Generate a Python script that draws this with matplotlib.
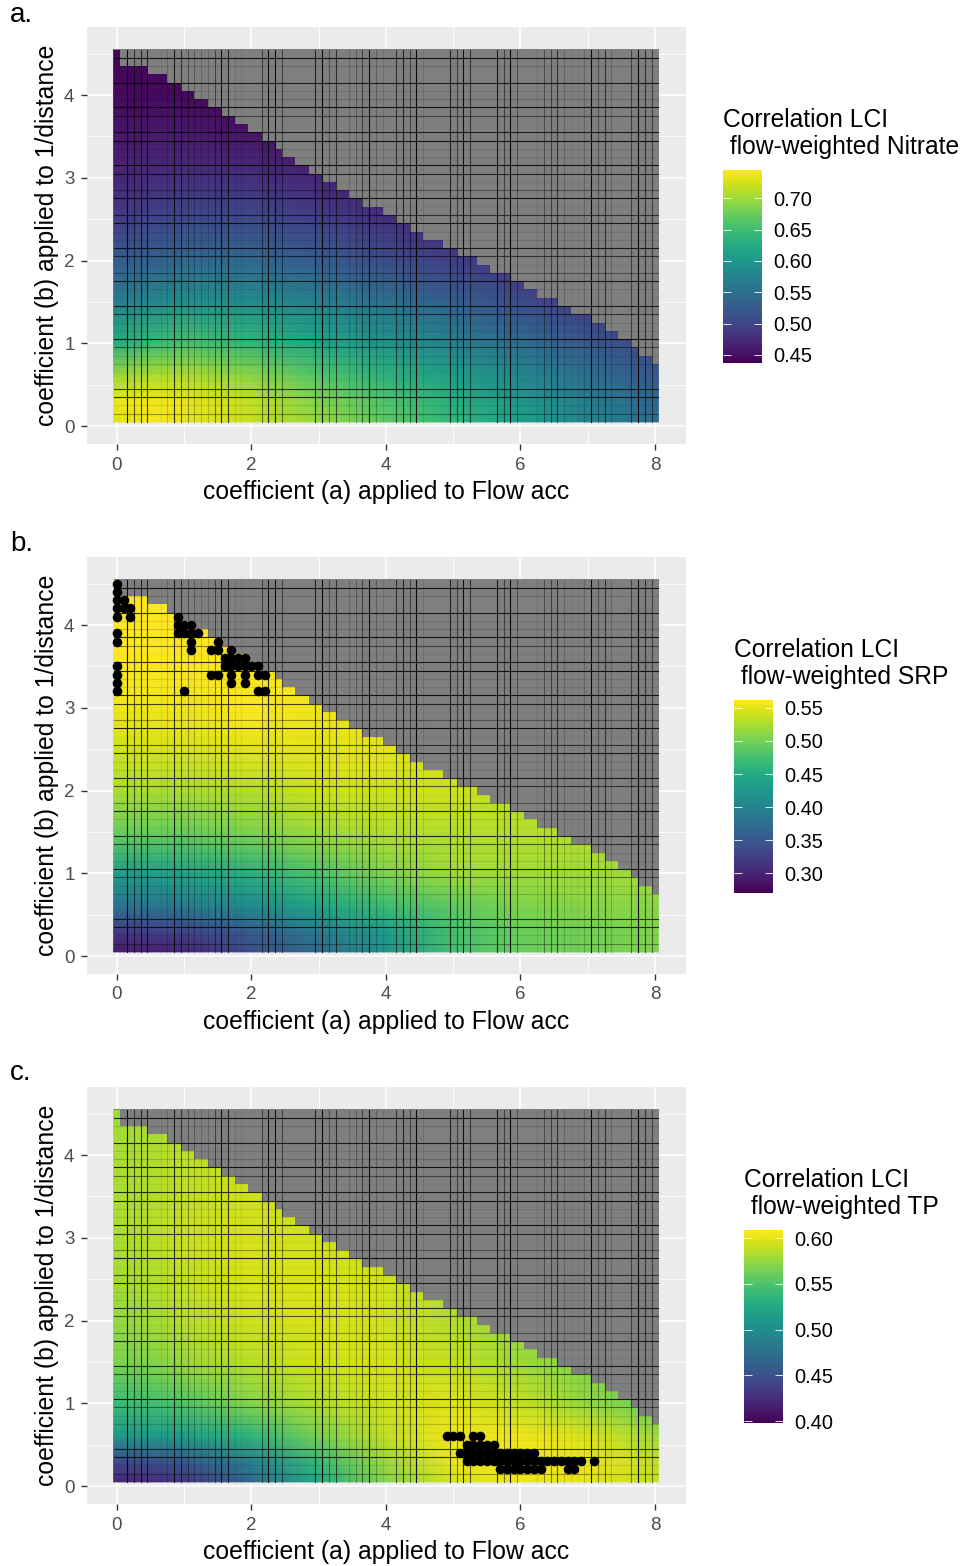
import matplotlib
matplotlib.use("Agg")
import matplotlib.pyplot as plt
from matplotlib.cm import ScalarMappable
from matplotlib.colors import Normalize
import numpy as np

W, H = 964, 1566
plt.rcParams["font.family"] = ["Liberation Sans", "DejaVu Sans"]

# anchor positions of the colour readings
a_pts = [-0.05, 0.5, 1, 2, 3, 4, 5, 6, 7, 8.05]
b_pts = [0.05, 0.3, 0.6, 1, 1.5, 2, 2.5, 3, 3.5, 4, 4.55]

# one row per b value, bottom to top (values behind the grey area are hidden)
corr_nitrate = [
    [0.730, 0.740, 0.735, 0.718, 0.695, 0.668, 0.640, 0.608, 0.575, 0.545],
    [0.735, 0.740, 0.735, 0.715, 0.685, 0.658, 0.630, 0.600, 0.568, 0.538],
    [0.700, 0.710, 0.710, 0.692, 0.662, 0.635, 0.610, 0.580, 0.550, 0.522],
    [0.625, 0.645, 0.655, 0.640, 0.618, 0.595, 0.570, 0.545, 0.522, 0.500],
    [0.565, 0.580, 0.590, 0.585, 0.570, 0.550, 0.530, 0.510, 0.490, 0.470],
    [0.525, 0.530, 0.540, 0.540, 0.525, 0.510, 0.495, 0.480, 0.460, 0.450],
    [0.490, 0.500, 0.505, 0.505, 0.495, 0.480, 0.465, 0.450, 0.450, 0.450],
    [0.470, 0.475, 0.480, 0.480, 0.470, 0.455, 0.450, 0.450, 0.450, 0.450],
    [0.455, 0.460, 0.460, 0.455, 0.450, 0.450, 0.450, 0.450, 0.450, 0.450],
    [0.445, 0.445, 0.445, 0.440, 0.440, 0.440, 0.440, 0.440, 0.440, 0.440],
    [0.440, 0.440, 0.440, 0.440, 0.440, 0.440, 0.440, 0.440, 0.440, 0.440],
]
corr_srp = [
    [0.290, 0.295, 0.300, 0.340, 0.370, 0.420, 0.475, 0.495, 0.500, 0.505],
    [0.320, 0.325, 0.330, 0.355, 0.390, 0.430, 0.475, 0.495, 0.500, 0.505],
    [0.380, 0.385, 0.390, 0.410, 0.440, 0.470, 0.490, 0.505, 0.510, 0.510],
    [0.430, 0.435, 0.440, 0.455, 0.480, 0.505, 0.520, 0.520, 0.520, 0.520],
    [0.495, 0.495, 0.495, 0.505, 0.520, 0.530, 0.530, 0.530, 0.530, 0.530],
    [0.525, 0.525, 0.525, 0.530, 0.540, 0.540, 0.540, 0.530, 0.530, 0.530],
    [0.540, 0.545, 0.545, 0.550, 0.550, 0.550, 0.540, 0.540, 0.540, 0.540],
    [0.555, 0.555, 0.555, 0.560, 0.555, 0.550, 0.550, 0.550, 0.550, 0.550],
    [0.560, 0.560, 0.560, 0.560, 0.560, 0.560, 0.560, 0.560, 0.560, 0.560],
    [0.560, 0.560, 0.560, 0.560, 0.560, 0.560, 0.560, 0.560, 0.560, 0.560],
    [0.560, 0.560, 0.560, 0.560, 0.560, 0.560, 0.560, 0.560, 0.560, 0.560],
]
corr_tp = [
    [0.420, 0.425, 0.430, 0.470, 0.525, 0.570, 0.595, 0.603, 0.600, 0.590],
    [0.445, 0.450, 0.458, 0.490, 0.540, 0.578, 0.603, 0.607, 0.603, 0.590],
    [0.510, 0.512, 0.515, 0.535, 0.565, 0.590, 0.604, 0.604, 0.597, 0.578],
    [0.540, 0.545, 0.552, 0.570, 0.585, 0.593, 0.598, 0.590, 0.575, 0.560],
    [0.567, 0.570, 0.578, 0.587, 0.594, 0.595, 0.590, 0.578, 0.570, 0.560],
    [0.575, 0.580, 0.586, 0.594, 0.597, 0.594, 0.585, 0.575, 0.570, 0.560],
    [0.580, 0.584, 0.590, 0.596, 0.597, 0.594, 0.585, 0.575, 0.570, 0.560],
    [0.582, 0.586, 0.592, 0.596, 0.594, 0.590, 0.585, 0.575, 0.570, 0.560],
    [0.582, 0.585, 0.590, 0.594, 0.590, 0.585, 0.585, 0.575, 0.570, 0.560],
    [0.581, 0.584, 0.588, 0.590, 0.585, 0.585, 0.585, 0.575, 0.570, 0.560],
    [0.580, 0.580, 0.580, 0.580, 0.580, 0.580, 0.580, 0.575, 0.570, 0.560],
]

# upper edge of the coloured tiles, one entry per run of columns
edge_a = [0, 0.1, 0.5, 0.8, 1.0, 1.2, 1.4, 1.6, 1.8, 2.0, 2.2, 2.4, 2.5, 2.7, 2.9, 3.1, 3.3, 3.5, 3.7,
          4.0, 4.2, 4.4, 4.6, 4.9, 5.1, 5.4, 5.6, 5.9, 6.1, 6.3, 6.6, 6.8, 7.1, 7.3, 7.5, 7.7, 7.8, 8.0]
edge_b = [4.55, 4.35, 4.25, 4.15, 4.05, 3.95, 3.85, 3.75, 3.65, 3.55, 3.45, 3.35, 3.25, 3.15, 3.05, 2.95,
          2.85, 2.75, 2.65, 2.55, 2.45, 2.35, 2.25, 2.15, 2.05, 1.95, 1.85, 1.75, 1.65, 1.55, 1.45, 1.35,
          1.25, 1.15, 1.05, 0.95, 0.85, 0.75]

# dark tile seams: (position, darkness)
seams_a = [(0.15, .95), (0.25, .7), (0.35, .8), (0.45, .8), (0.65, .15), (0.75, .3), (0.85, .85), (0.95, .7),
           (1.05, .5), (1.15, .4), (1.25, .3), (1.35, .3), (1.45, .6), (1.55, .9), (1.65, .8), (1.75, .2),
           (1.85, .15), (2.15, .6), (2.25, .9), (2.35, .9), (2.45, .6), (2.95, .8), (3.05, .95), (3.15, .5),
           (3.25, .7), (3.45, .3), (3.55, .4), (3.65, .6), (3.75, .9), (3.85, .4), (3.95, .2), (4.15, .7),
           (4.25, .8), (4.35, .6), (4.45, .95), (4.55, .2), (4.95, .8), (5.05, .6), (5.15, .9), (5.25, .7),
           (5.65, .85), (5.75, .6), (5.85, .95), (5.95, .5), (6.25, .2), (6.35, .5), (6.45, .6), (6.55, .7),
           (6.65, .3), (6.75, .15), (6.85, .15), (6.95, .3), (7.05, .95), (7.15, .5), (7.25, .7), (7.35, .3),
           (7.65, .6), (7.75, .95), (7.85, .7), (7.95, .6)]
seams_b = [(4.45, .9), (4.35, .25), (4.15, .85), (4.05, .2), (3.95, .3), (3.85, .9), (3.75, .6), (3.65, .1),
           (3.55, .85), (3.45, .9), (3.35, .2), (3.25, .2), (3.15, .9), (3.05, .8), (2.95, .1), (2.85, .5),
           (2.75, .9), (2.65, .1), (2.55, .7), (2.45, .85), (2.35, .2), (2.25, .2), (2.15, .85), (2.05, .7),
           (1.95, .1), (1.85, .5), (1.75, .85), (1.65, .2), (1.55, .1), (1.45, .85), (1.35, .7), (1.25, .2),
           (1.15, .2), (1.05, .9), (0.95, .6), (0.85, .2), (0.75, .3), (0.65, .1), (0.55, .1), (0.45, .8),
           (0.35, .85), (0.25, .2), (0.15, .5)]

# best-correlation points
srp_a = [0, 0, 0, 0, 0, 0, 0, 0, 0, 0, 0, 0.1, 0.1, 0.2, 0.2,
         0.9, 0.9, 1.0, 1.1, 0.9, 1.0, 1.1, 1.2, 1.1, 1.1,
         1.5, 1.4, 1.5, 1.7, 1.6, 1.7, 1.8, 1.9, 1.6, 1.7, 1.8, 1.9, 2.0, 2.1,
         1.4, 1.5, 1.7, 1.9, 2.1, 2.2, 1.7, 1.9, 1.0, 2.1, 2.2]
srp_b = [4.5, 4.4, 4.3, 4.2, 4.1, 3.9, 3.8, 3.5, 3.4, 3.3, 3.2, 4.3, 4.2, 4.2, 4.1,
         4.1, 4.0, 4.0, 4.0, 3.9, 3.9, 3.9, 3.9, 3.8, 3.7,
         3.8, 3.7, 3.7, 3.7, 3.6, 3.6, 3.6, 3.6, 3.5, 3.5, 3.5, 3.5, 3.5, 3.5,
         3.4, 3.4, 3.4, 3.4, 3.4, 3.4, 3.3, 3.3, 3.2, 3.2, 3.2]
tp_a = [4.9, 5.0, 5.1, 5.3, 5.4, 5.2, 5.3, 5.4, 5.5, 5.6,
        5.1, 5.2, 5.3, 5.4, 5.5, 5.6, 5.7, 5.8, 5.9, 6.0, 6.1, 6.2,
        5.2, 5.3, 5.4, 5.5, 5.6, 5.7, 5.8, 5.9, 6.0, 6.1, 6.2, 6.3, 6.4, 6.5, 6.6, 6.7, 6.8, 6.9, 7.1,
        5.7, 5.8, 5.9, 6.0, 6.1, 6.2, 6.3, 6.7, 6.8]
tp_b = [0.6, 0.6, 0.6, 0.6, 0.6, 0.5, 0.5, 0.5, 0.5, 0.5,
        0.4, 0.4, 0.4, 0.4, 0.4, 0.4, 0.4, 0.4, 0.4, 0.4, 0.4, 0.4,
        0.3, 0.3, 0.3, 0.3, 0.3, 0.3, 0.3, 0.3, 0.3, 0.3, 0.3, 0.3, 0.3, 0.3, 0.3, 0.3, 0.3, 0.3, 0.3,
        0.2, 0.2, 0.2, 0.2, 0.2, 0.2, 0.2, 0.2, 0.2]

panels = [
    ("a.", corr_nitrate, (0.437, 0.745), [0.45, 0.50, 0.55, 0.60, 0.65, 0.70], "Nitrate", 723, None, None),
    ("b.", corr_srp, (0.27, 0.562), [0.30, 0.35, 0.40, 0.45, 0.50, 0.55], "SRP", 734, srp_a, srp_b),
    ("c.", corr_tp, (0.398, 0.609), [0.40, 0.45, 0.50, 0.55, 0.60], "TP", 744, tp_a, tp_b),
]

fig = plt.figure(figsize=(W / 100, H / 100), dpi=100)


def add_px_axes(x0, y0, x1, y1):
    return fig.add_axes([x0 / W, 1 - y1 / H, (x1 - x0) / W, (y1 - y0) / H])


def px_text(x, y, s, **kw):
    fig.text(x / W, 1 - y / H, s, **kw)


for i, (tag, corr, lims, cticks, name, leg_x, pts_a, pts_b) in enumerate(panels):
    dy = 530 * i
    ax = add_px_axes(87, 27 + dy, 686, 444 + dy)
    ax.set_facecolor("#EBEBEB")
    for s in ax.spines.values():
        s.set_visible(False)
    ax.set_xlim(-0.446, 8.461)
    ax.set_ylim(-0.2175, 4.822)

    ax.set_xticks([0, 2, 4, 6, 8])
    ax.set_yticks([0, 1, 2, 3, 4])
    ax.set_xticks([1, 3, 5, 7], minor=True)
    ax.set_yticks([0.5, 1.5, 2.5, 3.5, 4.5], minor=True)
    ax.grid(which="major", color="white", lw=1.1)
    ax.grid(which="minor", color="white", lw=0.55)
    ax.set_axisbelow(True)
    ax.tick_params(which="major", length=4, width=1.0, color="#333333", labelcolor="#4D4D4D",
                   labelsize=13.5, pad=5)
    ax.tick_params(which="minor", length=0)

    ax.pcolormesh(a_pts, b_pts, np.array(corr), cmap="viridis", vmin=lims[0], vmax=lims[1],
                  shading="gouraud", zorder=2)
    # NA tiles above the staircase, a hair wider so the mesh edge does not show
    ax.stairs(edge_b, [x - 0.05 for x in edge_a] + [8.065], baseline=4.56, fill=True,
              color="#7F7F7F", lw=0, zorder=3)
    for pos, dark in seams_a:
        ax.plot([pos, pos], [0.05, 4.55], color="black", alpha=dark ** 1.4, lw=0.8, zorder=4)
    for pos, dark in seams_b:
        ax.plot([-0.05, 8.05], [pos, pos], color="black", alpha=dark ** 1.4, lw=0.8, zorder=4)
    if pts_a is not None:
        ax.scatter(pts_a, pts_b, s=48, color="black", lw=0, zorder=5)

    px_text(386.5, 492.5 + dy, "coefficient (a) applied to Flow acc", fontsize=17.85, color="black",
            ha="center", va="center")
    px_text(47.5, 235 + dy, "coefficient (b) applied to 1/distance", fontsize=17.85, color="black",
            rotation=90, ha="center", va="center")
    px_text(10, 15.5 + 528.5 * i, tag, fontsize=20, color="black", ha="left", va="center")

    # legend
    cax = add_px_axes(leg_x, 170 + dy, leg_x + 39, 363 + dy)
    cb = fig.colorbar(ScalarMappable(Normalize(*lims), "viridis"), cax=cax)
    cb.outline.set_visible(False)
    cb.set_ticks(cticks, labels=[f"{t:.2f}" for t in cticks])
    cax.tick_params(length=0, labelsize=14.4, pad=8, labelcolor="black")
    cax.hlines(cticks, 0, 0.2, color="white", lw=0.6)
    cax.hlines(cticks, 0.8, 1, color="white", lw=0.6)
    px_text(leg_x, 133.5 + dy, "Correlation LCI\n flow-weighted " + name, fontsize=17.7, color="black",
            ha="left", va="center", linespacing=1.17)

fig.savefig("out.png", dpi=100)
